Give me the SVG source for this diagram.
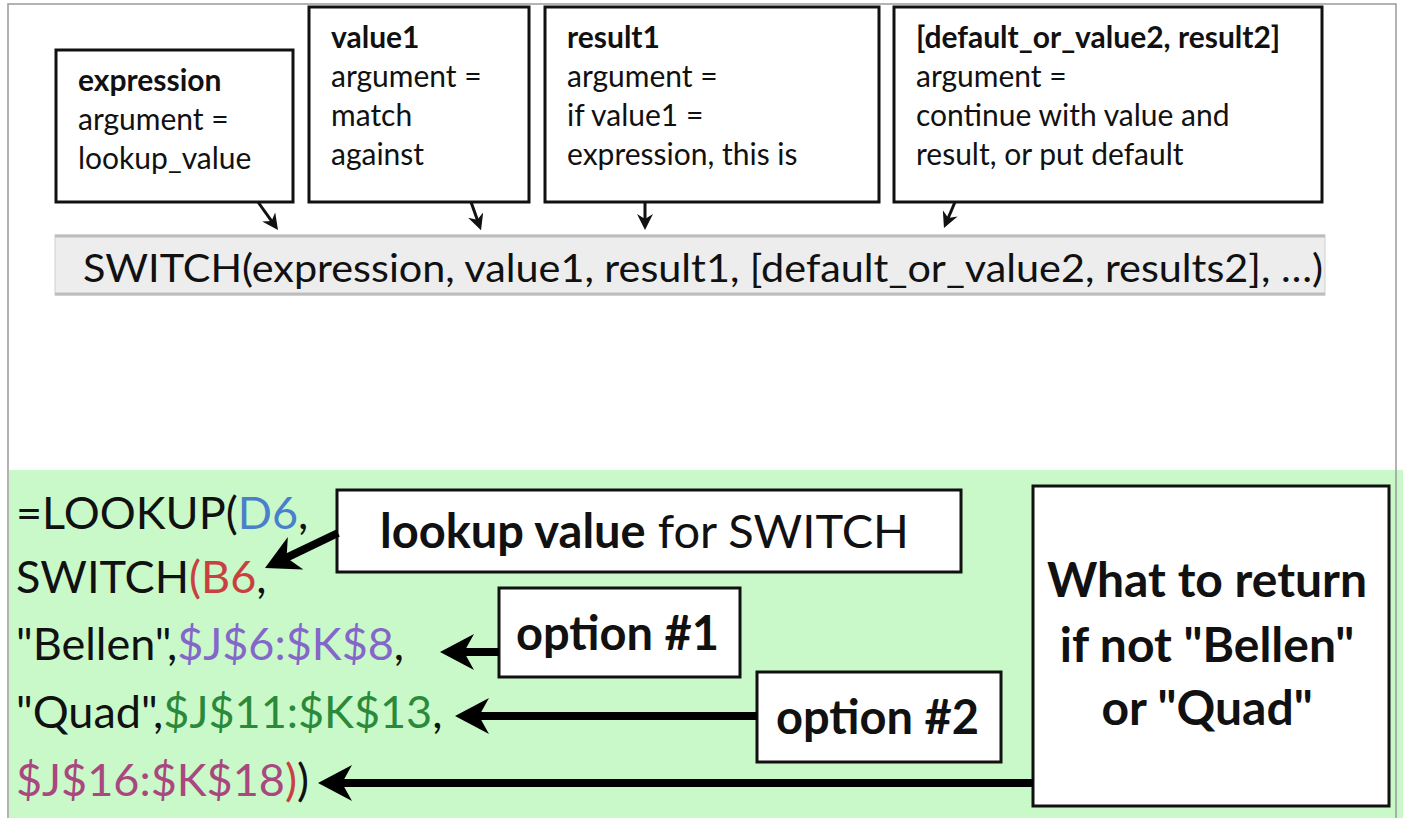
<svg xmlns="http://www.w3.org/2000/svg" width="1403" height="818" viewBox="0 0 1403 818">
<style>
.box{fill:#fff;stroke:#111;stroke-width:3}
.t{font-family:Lato,"Liberation Sans",sans-serif;fill:#111}
.b{font-weight:bold}
.top{font-size:30px}
.big{font-size:45px}
.thin{stroke:#111;stroke-width:3;fill:none}
.thick{stroke:#000;stroke-width:8;fill:none}
.cD{fill:#4a7fcc}.cB{fill:#c8403f}.cP{fill:#8467c9}.cG{fill:#2b8a3a}.cM{fill:#a9477f}
</style>
<defs>
<marker id="ahs" markerUnits="userSpaceOnUse" viewBox="0 0 16 16" refX="10" refY="8" markerWidth="16" markerHeight="16" orient="auto"><path d="M0,0 L16,8 L0,16 L5,8 Z" fill="#111"/></marker>
<marker id="ahl" markerUnits="userSpaceOnUse" viewBox="0 0 34 36" refX="14" refY="18" markerWidth="34" markerHeight="36" orient="auto"><path d="M0,0 L34,18 L0,36 L10,18 Z" fill="#000"/></marker>
</defs>
<rect x="0" y="0" width="1403" height="818" fill="#fff"/>
<rect x="9" y="470" width="1394" height="348" fill="#c9f9c9"/>
<path d="M8,818 V4 H1396 V818" fill="none" stroke="#9a9a9a" stroke-width="1.5"/>

<g id="formula-bar">
<rect x="55" y="235" width="1270" height="60" fill="#ededed" stroke="#cfcfcf" stroke-width="1"/>
<line x1="55" y1="236" x2="1325" y2="236" stroke="#bdbdbd" stroke-width="3"/>
<line x1="55" y1="294" x2="1325" y2="294" stroke="#bdbdbd" stroke-width="3"/>
<text class="t" x="83" y="282" font-size="39" textLength="1240" lengthAdjust="spacingAndGlyphs">SWITCH(expression, value1, result1, [default_or_value2, results2], …)</text>
</g>

<g id="box-expression">
<rect class="box" x="56" y="50" width="237" height="152"/>
<text class="t top b" x="78" y="91">expression</text>
<text class="t top" x="78" y="130">argument =</text>
<text class="t top" x="78" y="169">lookup_value</text>
</g>
<g id="box-value1">
<rect class="box" x="309" y="7" width="220" height="195"/>
<text class="t top b" x="331" y="48">value1</text>
<text class="t top" x="331" y="87">argument =</text>
<text class="t top" x="331" y="126">match</text>
<text class="t top" x="331" y="165">against</text>
</g>
<g id="box-result1">
<rect class="box" x="545" y="7" width="334" height="195"/>
<text class="t top b" x="567" y="48">result1</text>
<text class="t top" x="567" y="87">argument =</text>
<text class="t top" x="567" y="126">if value1 =</text>
<text class="t top" x="567" y="165">expression, this is</text>
</g>
<g id="box-default">
<rect class="box" x="894" y="7" width="428" height="195"/>
<text class="t top b" x="916" y="48">[default_or_value2, result2]</text>
<text class="t top" x="916" y="87">argument =</text>
<text class="t top" x="916" y="126">continue with value and</text>
<text class="t top" x="916" y="165">result, or put default</text>
</g>

<g id="formula-lines">
<text class="t big" x="16" y="529">=LOOKUP(<tspan class="cD">D6</tspan>,</text>
<text class="t big" x="16" y="593">SWITCH<tspan class="cB">(B6</tspan>,</text>
<text class="t big" x="16" y="660">"Bellen",<tspan class="cP">$J$6:$K$8</tspan>,</text>
<text class="t big" x="16" y="728">"Quad",<tspan class="cG">$J$11:$K$13</tspan>,</text>
<text class="t big" x="16" y="796"><tspan class="cM">$J$16:$K$18</tspan><tspan class="cB">)</tspan>)</text>
</g>

<g id="box-lookup">
<rect class="box" x="337" y="490" width="624" height="82"/>
<text class="t" x="380" y="548" font-size="47"><tspan class="b">lookup value</tspan> for SWITCH</text>
</g>
<g id="box-option1">
<rect class="box" x="499" y="588" width="241" height="89"/>
<text class="t b" x="516" y="650" font-size="47">option #1</text>
</g>
<g id="box-option2">
<rect class="box" x="757" y="672" width="244" height="90"/>
<text class="t b" x="776" y="734" font-size="47">option #2</text>
</g>
<g id="box-default-return">
<rect class="box" x="1033" y="486" width="356" height="320"/>
<text class="t b" x="1207" y="597" font-size="48" text-anchor="middle">What to return</text>
<text class="t b" x="1207" y="662" font-size="48" text-anchor="middle">if not "Bellen"</text>
<text class="t b" x="1207" y="725" font-size="48" text-anchor="middle">or "Quad"</text>
</g>

<g id="connectors">
<line class="thin" x1="258" y1="202" x2="274.5" y2="225.1" marker-end="url(#ahs)"/>
<line class="thin" x1="471" y1="202" x2="479" y2="224.5" marker-end="url(#ahs)"/>
<line class="thin" x1="645" y1="202" x2="645" y2="224" marker-end="url(#ahs)"/>
<line class="thin" x1="955" y1="202" x2="946.3" y2="222.5" marker-end="url(#ahs)"/>
<line class="thick" x1="338" y1="533" x2="283" y2="559.4" marker-end="url(#ahl)"/>
<line class="thick" x1="499" y1="652" x2="460" y2="652" marker-end="url(#ahl)"/>
<line class="thick" x1="757" y1="716" x2="475" y2="716" marker-end="url(#ahl)"/>
<line class="thick" x1="1033" y1="783" x2="338" y2="783" marker-end="url(#ahl)"/>
</g>
</svg>
